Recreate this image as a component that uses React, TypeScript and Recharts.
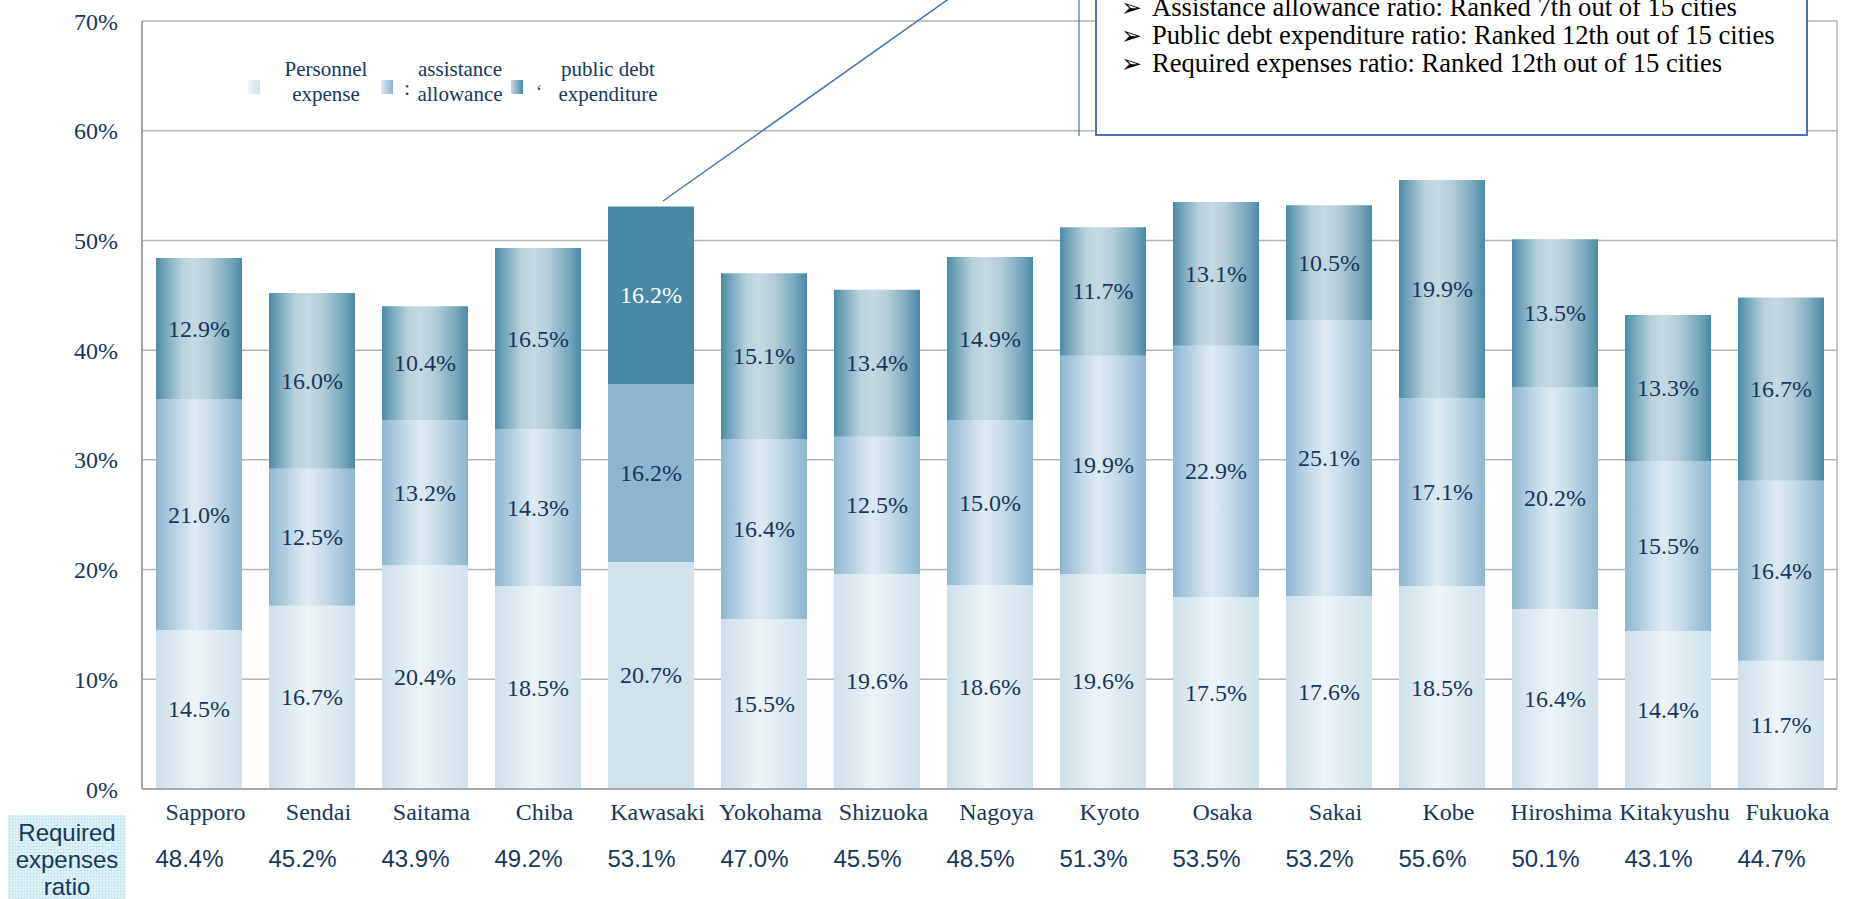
import React from "react";
import { BarChart, Bar, XAxis, YAxis, CartesianGrid, Cell, LabelList, Legend } from "recharts";

const cities = ["Sapporo", "Sendai", "Saitama", "Chiba", "Kawasaki", "Yokohama", "Shizuoka", "Nagoya", "Kyoto", "Osaka", "Sakai", "Kobe", "Hiroshima", "Kitakyushu", "Fukuoka"];
const personnel = [14.5, 16.7, 20.4, 18.5, 20.7, 15.5, 19.6, 18.6, 19.6, 17.5, 17.6, 18.5, 16.4, 14.4, 11.7];
const assistance = [21.0, 12.5, 13.2, 14.3, 16.2, 16.4, 12.5, 15.0, 19.9, 22.9, 25.1, 17.1, 20.2, 15.5, 16.4];
const publicDebt = [12.9, 16.0, 10.4, 16.5, 16.2, 15.1, 13.4, 14.9, 11.7, 13.1, 10.5, 19.9, 13.5, 13.3, 16.7];
const totals = [48.4, 45.2, 43.9, 49.2, 53.1, 47.0, 45.5, 48.5, 51.3, 53.5, 53.2, 55.6, 50.1, 43.1, 44.7];
const yTicks = [0, 10, 20, 30, 40, 50, 60, 70];
const highlightCity = "Kawasaki";
const annotationLines = [
  "Assistance allowance ratio: Ranked 7th out of 15 cities",
  "Public debt expenditure ratio: Ranked 12th out of 15 cities",
  "Required expenses ratio: Ranked 12th out of 15 cities",
];
const legendItems = [
  { key: "personnel", lines: ["Personnel", "expense"] },
  { key: "assistance", lines: ["assistance", "allowance"] },
  { key: "publicDebt", lines: ["public debt", "expenditure"] },
];

const data = cities.map((city, i) => ({
  city,
  personnel: personnel[i],
  assistance: assistance[i],
  publicDebt: publicDebt[i],
}));

const SERIF = "'Liberation Serif', 'Times New Roman', serif";
const SANS = "'Liberation Sans', Arial, sans-serif";
const NAVY = "#17375e";

const solid: Record<string, string> = { personnel: "#d1e2ec", assistance: "#8cb6d0", publicDebt: "#4888a5" };

const makeLabel = (key: string) => (props: any) => {
  const vb = props.viewBox || {};
  const x = props.x ?? vb.x;
  const y = props.y ?? vb.y;
  const width = props.width ?? vb.width;
  const height = props.height ?? vb.height;
  const idx = props.index;
  const city = cities[idx];
  const fill = key === "publicDebt" && city === highlightCity ? "#ffffff" : NAVY;
  return (
    <text
      x={x + width / 2}
      y={y + height / 2}
      textAnchor="middle"
      dominantBaseline="central"
      fontFamily={SERIF}
      fontSize={24}
      fill={fill}
    >
      {Number(props.value).toFixed(1)}%
    </text>
  );
};

const CatTick = (props: any) => {
  const { x, y, payload } = props;
  return (
    <text x={x + 7} y={y} dy="0.71em" textAnchor="middle" fontFamily={SERIF} fontSize={24} fill={NAVY}>
      {payload.value}
    </text>
  );
};

const TotalTick = (props: any) => {
  const { x, y, payload } = props;
  const i = cities.indexOf(payload.value);
  return (
    <text x={x - 9} y={y} dy="0.71em" textAnchor="middle" fontFamily={SANS} fontSize={24} fill={NAVY}>
      {totals[i].toFixed(1)}%
    </text>
  );
};

const swatchGrad: Record<string, string> = {
  personnel: "linear-gradient(to right, #eef4f8, #cfe0ea)",
  assistance: "linear-gradient(to right, #dde9f2, #8db6d0)",
  publicDebt: "linear-gradient(to right, #c3d8e2, #4787a4)",
};
const swatchX = [248, 381, 511];
const textX = [326, 460, 608];
const markX = [404, 536];

const LegendContent = () => (
  <div style={{ position: "relative", width: 1, height: 1 }}>
    {legendItems.map((it, i) => (
      <React.Fragment key={it.key}>
        <div style={{ position: "absolute", left: swatchX[i], top: 80, width: 12, height: 14, background: swatchGrad[it.key] }} />
        {it.lines.map((ln, j) => (
          <div
            key={j}
            style={{
              position: "absolute",
              left: textX[i] - 80,
              width: 160,
              top: 57 + j * 25,
              textAlign: "center",
              fontFamily: SERIF,
              fontSize: 21,
              lineHeight: "24px",
              color: NAVY,
              whiteSpace: "nowrap",
            }}
          >
            {ln}
          </div>
        ))}
      </React.Fragment>
    ))}
    <div style={{ position: "absolute", left: markX[0], top: 76, fontFamily: SERIF, fontSize: 22, color: NAVY, lineHeight: "24px" }}>:</div>
    <div style={{ position: "absolute", left: markX[1], top: 80, fontFamily: SERIF, fontSize: 18, color: NAVY, lineHeight: "24px" }}>‘</div>
  </div>
);

export default function App() {
  return (
    <div style={{ position: "absolute", left: 0, top: 0, width: 1850, height: 899, background: "#fff", overflow: "hidden" }}>
      <BarChart width={1850} height={899} data={data} margin={{ top: 21, right: 13, bottom: 30, left: 82 }} barSize={86}>
        <defs>
          <linearGradient id="gP" x1="0" y1="0" x2="1" y2="0">
            <stop offset="0" stopColor="#cddfea" />
            <stop offset="0.45" stopColor="#eef4f8" />
            <stop offset="1" stopColor="#cfe1eb" />
          </linearGradient>
          <linearGradient id="gA" x1="0" y1="0" x2="1" y2="0">
            <stop offset="0" stopColor="#8cb6d0" />
            <stop offset="0.3" stopColor="#c8dcea" />
            <stop offset="0.45" stopColor="#dfebf3" />
            <stop offset="0.65" stopColor="#c6dbe9" />
            <stop offset="1" stopColor="#8cb6d0" />
          </linearGradient>
          <linearGradient id="gD" x1="0" y1="0" x2="1" y2="0">
            <stop offset="0" stopColor="#4a8aa6" />
            <stop offset="0.08" stopColor="#6a9fb6" />
            <stop offset="0.3" stopColor="#b8d1dc" />
            <stop offset="0.45" stopColor="#c5dae3" />
            <stop offset="0.62" stopColor="#b3cdd9" />
            <stop offset="0.85" stopColor="#7aa9be" />
            <stop offset="1" stopColor="#4a8aa6" />
          </linearGradient>
        </defs>
        <CartesianGrid stroke="#b4b4b4" strokeWidth={1.5} vertical={true} verticalPoints={[142, 1837]} />
        <XAxis
          xAxisId="c"
          dataKey="city"
          height={40}
          interval={0}
          tickLine={false}
          tickSize={0}
          tickMargin={14}
          axisLine={{ stroke: "#9a9a9a", strokeWidth: 1.5 }}
          tick={<CatTick />}
        />
        <XAxis
          xAxisId="t"
          dataKey="city"
          height={40}
          interval={0}
          tickLine={false}
          tickSize={0}
          tickMargin={21}
          axisLine={false}
          tick={<TotalTick />}
        />
        <YAxis
          width={60}
          domain={[0, 70]}
          ticks={yTicks}
          interval={0}
          tickFormatter={(v: number) => `${v}%`}
          tickLine={false}
          tickSize={0}
          tickMargin={24}
          axisLine={{ stroke: "#9a9a9a", strokeWidth: 1.5 }}
          tick={{ fontFamily: SERIF, fontSize: 24, fill: NAVY }}
        />
        <Legend verticalAlign="middle" layout="horizontal" wrapperStyle={{ top: 0, left: 0, width: 1, height: 1 }} content={<LegendContent />} />
        {(["personnel", "assistance", "publicDebt"] as const).map((key) => (
          <Bar key={key} xAxisId="c" dataKey={key} stackId="s" isAnimationActive={false}
            fill={key === "personnel" ? "url(#gP)" : key === "assistance" ? "url(#gA)" : "url(#gD)"}>
            {data.map((d) => (
              <Cell
                key={d.city}
                fill={d.city === highlightCity ? solid[key] : key === "personnel" ? "url(#gP)" : key === "assistance" ? "url(#gA)" : "url(#gD)"}
              />
            ))}
            <LabelList dataKey={key} content={makeLabel(key)} />
          </Bar>
        ))}
      </BarChart>

      {/* Required expenses ratio row header */}
      <div
        style={{
          position: "absolute",
          left: 8,
          top: 815,
          width: 118,
          height: 84,
          backgroundColor: "#e3f4f8",
          backgroundImage: "radial-gradient(#cbe9f1 1px, transparent 1.2px)",
          backgroundSize: "3px 3px",
          fontFamily: SANS,
          fontSize: 24,
          lineHeight: "27px",
          color: NAVY,
          textAlign: "center",
          paddingTop: 4,
          boxSizing: "border-box",
        }}
      >
        Required
        <br />
        expenses
        <br />
        ratio
      </div>

      {/* leader line */}
      <svg style={{ position: "absolute", left: 0, top: 0 }} width={1850} height={899} pointerEvents="none">
        <line x1={663} y1={201} x2={950} y2={-2} stroke="#4a72b8" strokeWidth={1.5} />
        <line x1={1079} y1={0} x2={1079} y2={136} stroke="#4a72b8" strokeWidth={1.2} />
      </svg>

      {/* annotation box */}
      <div
        style={{
          position: "absolute",
          left: 1095,
          top: -12,
          width: 713,
          height: 148,
          border: "2px solid #4a72b8",
          background: "#fff",
          boxSizing: "border-box",
        }}
      >
        {annotationLines.map((ln, i) => (
          <div
            key={i}
            style={{
              position: "absolute",
              left: 24,
              top: 3 + i * 28,
              fontFamily: SERIF,
              fontSize: 26.6,
              lineHeight: "28px",
              color: "#000",
              whiteSpace: "nowrap",
            }}
          >
            <span style={{ display: "inline-block", width: 31, fontFamily: "'DejaVu Sans', sans-serif", fontSize: 25, fontWeight: 700 }}>➢</span>
            {ln}
          </div>
        ))}
      </div>
    </div>
  );
}
